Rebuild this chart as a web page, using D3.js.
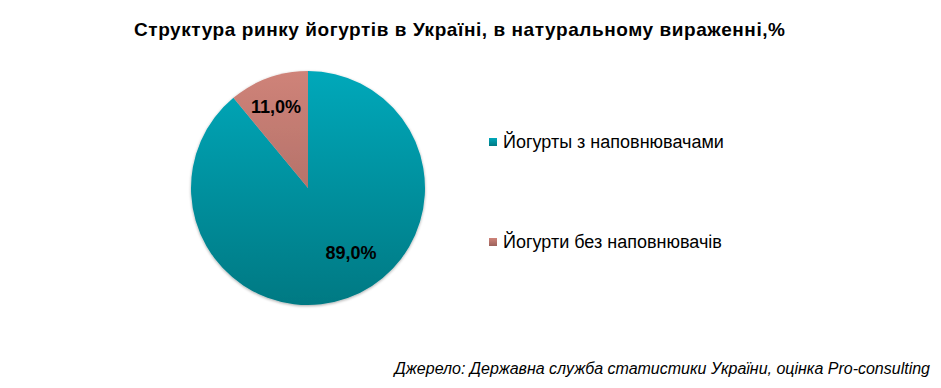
<!DOCTYPE html>
<html><head><meta charset="utf-8">
<script src="https://cdn.jsdelivr.net/npm/d3@7"></script>
<style>body{margin:0;background:#fff;} svg{display:block;font-family:"Liberation Sans",Arial,sans-serif;}</style>
</head><body>
<svg id="c" width="941" height="388"></svg>
<script>
const categories = ["Йогурты з наповнювачами", "Йогурти без наповнювачів"];
const values = [89.0, 11.0];
const valueLabels = ["89,0%", "11,0%"];
const colorsTop = ["#00a8ba", "#cf8379"];
const colorsBottom = ["#007983", "#9c625b"];
const title = "Структура ринку йогуртів в Україні, в натуральному вираженні,%";
const source = "Джерело: Державна служба статистики України, оцінка Pro-consulting";

const svg = d3.select("#c");
const defs = svg.append("defs");
const cx=308, cy=188, r=117;
categories.forEach((c,i)=>{
  const g = defs.append("linearGradient").attr("id","g"+i).attr("gradientUnits","userSpaceOnUse")
    .attr("x1",0).attr("x2",0).attr("y1",-r).attr("y2",r);
  g.append("stop").attr("offset","0%").attr("stop-color",colorsTop[i]);
  g.append("stop").attr("offset","100%").attr("stop-color",colorsBottom[i]);
  const l = defs.append("linearGradient").attr("id","l"+i).attr("x1",0).attr("y1",0).attr("x2",0).attr("y2",1);
  l.append("stop").attr("offset","0%").attr("stop-color",colorsTop[i]);
  l.append("stop").attr("offset","100%").attr("stop-color",colorsBottom[i]);
});
const f = defs.append("filter").attr("id","sh").attr("x","-10%").attr("y","-10%").attr("width","120%").attr("height","120%");
f.append("feGaussianBlur").attr("in","SourceAlpha").attr("stdDeviation",1.5);
f.append("feOffset").attr("dx",0).attr("dy",0.5).attr("result","b");
f.append("feComponentTransfer").append("feFuncA").attr("type","linear").attr("slope",0.35);
const m = f.append("feMerge"); m.append("feMergeNode"); m.append("feMergeNode").attr("in","SourceGraphic");

svg.append("text").attr("x",134).attr("y",36).attr("textLength",651).attr("lengthAdjust","spacing")
  .attr("font-weight","bold").attr("font-size",19).attr("fill","#000").text(title);

const pie = d3.pie().sort(null).value(d=>d)(values);
const arc = d3.arc().innerRadius(0).outerRadius(r);
const gp = svg.append("g").attr("transform",`translate(${cx},${cy})`);
gp.append("g").attr("filter","url(#sh)").selectAll("path").data(pie).join("path").attr("d",arc).attr("fill",(d,i)=>`url(#g${i})`);

const labelPos = [[351-cx,253-cy],[276-cx,107-cy]];
gp.selectAll("text.v").data(pie).join("text").attr("class","v")
  .attr("x",(d,i)=>labelPos[i][0]).attr("y",(d,i)=>labelPos[i][1]).attr("dy","0.35em")
  .attr("text-anchor","middle").attr("font-weight","bold").attr("font-size",18).attr("fill","#000")
  .text((d,i)=>valueLabels[i]);

const ly = d3.scalePoint().domain(categories).range([142,242]);
const lg = svg.append("g");
categories.forEach((c,i)=>{
  lg.append("rect").attr("x",489).attr("y",ly(c)-4).attr("width",8).attr("height",8).attr("fill",`url(#l${i})`);
  lg.append("text").attr("x",503).attr("y",ly(c)).attr("dy","0.35em").attr("font-size",18).attr("fill","#000").text(c);
});

svg.append("text").attr("x",930).attr("y",374).attr("text-anchor","end")
  .attr("font-style","italic").attr("font-size",16).attr("fill","#000").text(source);
</script>
</body></html>
